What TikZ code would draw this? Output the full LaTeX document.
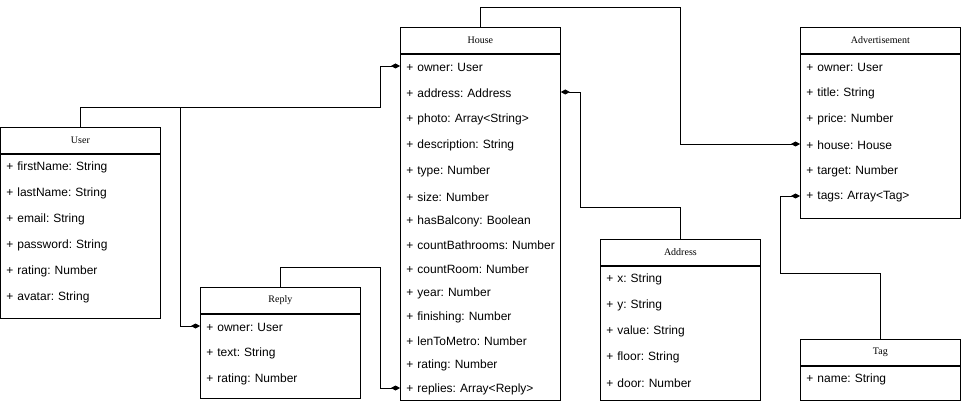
\documentclass[tikz,border=0pt]{standalone}
\usepackage{fontspec}
\setmainfont{Liberation Serif}
\setsansfont{Liberation Sans}
\usetikzlibrary{positioning,arrows.meta}

\begin{document}
\frenchspacing
\begin{tikzpicture}[
              x=1pt, y=-1pt,
              line width=0.8pt,
              classhead/.style={
                  draw,
                  anchor=north west,
                  minimum width=160pt,
                  minimum height=26pt,
                  inner sep=0pt,
                  font=\rmfamily\fontsize{10}{12}\selectfont,
                },
              classbody/.style={
                  draw,
                  minimum width=160pt,
                  inner sep=0pt,
                  below=0pt of #1,
                },
              field/.style={
                  anchor=west,
                  text width=148pt,
                  inner xsep=6pt,
                  inner ysep=0pt,
                  minimum height=22pt,
                  align=left,
                  font=\sffamily\fontsize{12}{14}\selectfont,
                },
              assoc/.style={-{Diamond[length=9pt,width=5pt]}},
            ]
            \useasboundingbox (0,0) rectangle (961,403);
            % classes
            \node[classhead] (user) at (0,127) {User};
            \node[classbody=user, minimum height=164pt] (user-body) {};
            \foreach \Name/\Text/\Y in {firstName/{+ firstName: String}/167,
              lastName/{+ lastName: String}/193, email/{+ email: String}/219,
              password/{+ password: String}/245, rating/{+ rating: Number}/271,
              avatar/{+ avatar: String}/297}
            \node[field] (user-\Name) at (0,\Y) {\mbox{\Text}};

            \node[classhead] (house) at (400,27) {House};
            \node[classbody=house, minimum height=346pt] (house-body) {};
            \foreach \Name/\Text/\Y in {owner/{+ owner: User}/67,
              address/{+ address: Address}/93, photo/{+ photo: Array<String>}/119,
              description/{+ description: String}/145, type/{+ type: Number}/171,
              size/{+ size: Number}/197, hasBalcony/{+ hasBalcony: Boolean}/221,
              countBathrooms/{+ countBathrooms: Number}/245,
              countRoom/{+ countRoom: Number}/269, year/{+ year: Number}/293,
              finishing/{+ finishing: Number}/317,
              lenToMetro/{+ lenToMetro: Number}/341, rating/{+ rating: Number}/365,
              replies/{+ replies: Array<Reply>}/389}
            \node[field] (house-\Name) at (400,\Y) {\mbox{\Text}};

            \node[classhead] (ad) at (800,27) {Advertisement};
            \node[classbody=ad, minimum height=164pt] (ad-body) {};
            \foreach \Name/\Text/\Y in {owner/{+ owner: User}/67,
              title/{+ title: String}/93, price/{+ price: Number}/119,
              house/{+ house: House}/145, target/{+ target: Number}/171,
              tags/{+ tags: Array<Tag>}/197}
            \node[field] (ad-\Name) at (800,\Y) {\mbox{\Text}};

            \node[classhead] (address) at (600,239) {Address};
            \node[classbody=address, minimum height=134pt] (address-body) {};
            \foreach \Name/\Text/\Y in {x/{+ x: String}/279, y/{+ y: String}/305,
              value/{+ value: String}/331, floor/{+ floor: String}/357,
              door/{+ door: Number}/383}
            \node[field] (address-\Name) at (600,\Y) {\mbox{\Text}};

            \node[classhead] (reply) at (200,287) {Reply};
            \node[classbody=reply, minimum height=84pt] (reply-body) {};
            \foreach \Name/\Text/\Y in {owner/{+ owner: User}/327,
              text/{+ text: String}/353, rating/{+ rating: Number}/379}
            \node[field] (reply-\Name) at (200,\Y) {\mbox{\Text}};

            \node[classhead] (tag) at (800,339) {Tag};
            \node[classbody=tag, minimum height=34pt] (tag-body) {};
            \node[field] (tag-name) at (800,379) {\mbox{+ name: String}};

            % associations
            \draw[assoc] (user.north) |- (380,107) |- ([yshift=1pt]house-owner.west);
            \draw[assoc] (user.north) |- (180,107) |- ([yshift=1pt]reply-owner.west);
            \draw[assoc] (reply.north) |- (380,267) |- ([yshift=1pt]house-replies.west);
            \draw[assoc] (address.north) |- (580,207) |- ([yshift=1pt]house-address.east);
            \draw[assoc] (house.north) |- (680,7) |- ([yshift=1pt]ad-house.west);
            \draw[assoc] (tag.north) |- (780,273) |- ([yshift=1pt]ad-tags.west);
          \end{tikzpicture}
\end{document}
